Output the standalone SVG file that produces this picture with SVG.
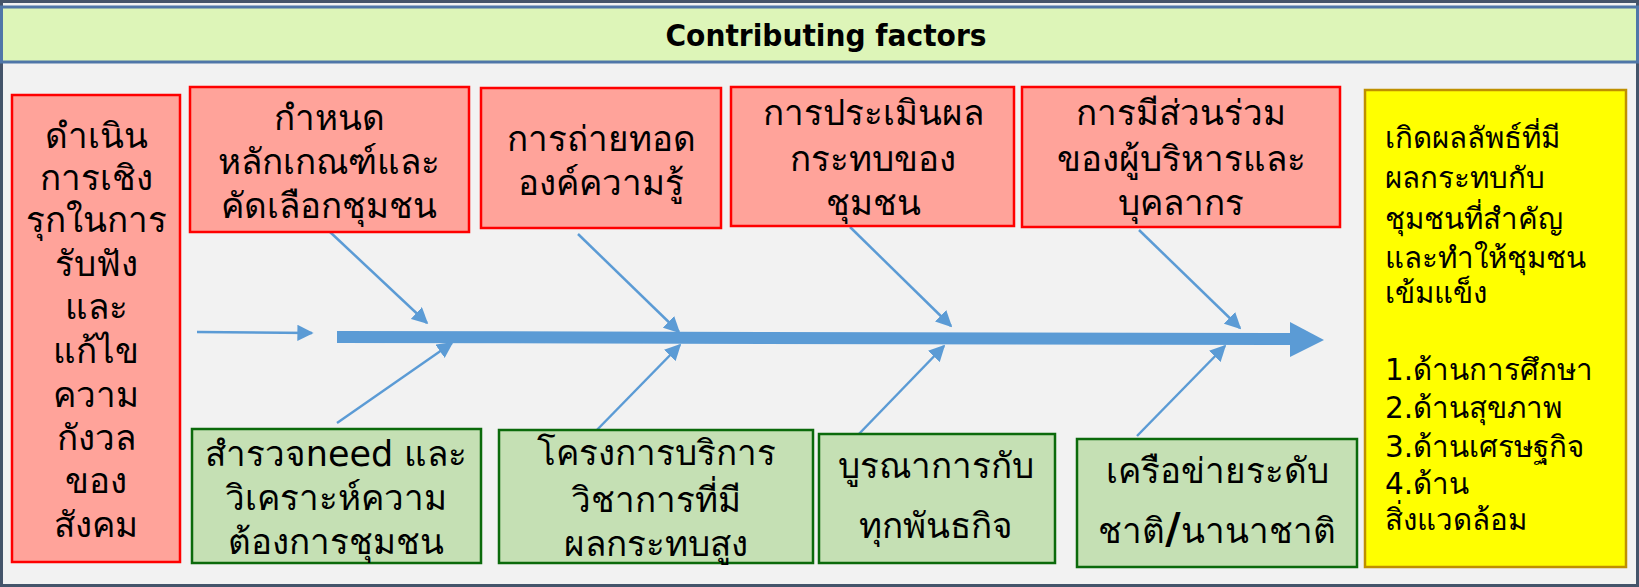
<svg xmlns="http://www.w3.org/2000/svg" width="1639" height="587" viewBox="0 0 1639 587">
<defs>
<style>
.t{font-family:"DejaVu Sans","Noto Sans",sans-serif;font-size:35px;fill:#000;text-anchor:middle}
.y{font-family:"DejaVu Sans","Noto Sans",sans-serif;font-size:29.5px;fill:#000}
.red{fill:#ffa39a;stroke:#ff0000;stroke-width:2.5}
.grn{fill:#c5e0b4;stroke:#0b6a0b;stroke-width:2.5}
.bone{stroke:#5b9bd5;stroke-width:2.5;fill:none;marker-end:url(#ah)}
</style>
<marker id="ah" viewBox="0 0 10 10" refX="9" refY="5" markerWidth="6.5" markerHeight="6.5" orient="auto">
<path d="M0,0 L10,5 L0,10 z" fill="#5b9bd5"/>
</marker>
</defs>
<rect x="0" y="0" width="1639" height="587" fill="#f2f2f2"/>
<rect x="1.5" y="1.5" width="1636" height="584" fill="none" stroke="#44546a" stroke-width="3"/>
<g id="title">
<rect x="1.5" y="7" width="1636" height="55" fill="#ddf5b8" stroke="#4f76a8" stroke-width="3"/>
<text x="826" y="46" font-family="DejaVu Sans,sans-serif" font-size="30" font-weight="bold" text-anchor="middle" textLength="321" lengthAdjust="spacingAndGlyphs">Contributing factors</text>
</g>
<g id="connectors">
<line class="bone" x1="197" y1="332" x2="312" y2="333"/>
<line x1="337" y1="337" x2="1292" y2="339" stroke="#5b9bd5" stroke-width="12"/>
<path d="M1290,322 L1324,340 L1290,357 z" fill="#5b9bd5"/>
<line class="bone" x1="330" y1="232" x2="427" y2="323"/>
<line class="bone" x1="578" y1="234" x2="679" y2="332"/>
<line class="bone" x1="850" y1="227" x2="951" y2="326"/>
<line class="bone" x1="1139" y1="230" x2="1240" y2="328"/>
<line class="bone" x1="337" y1="423" x2="452" y2="343"/>
<line class="bone" x1="592" y1="435" x2="680" y2="345"/>
<line class="bone" x1="857" y1="436" x2="944" y2="346"/>
<line class="bone" x1="1137" y1="436" x2="1225" y2="346"/>
</g>
<g id="n-proactive">
<rect class="red" x="12" y="95" width="168" height="467"/>
<text class="t"><tspan x="96" y="148">ดำเนิน</tspan><tspan x="96" y="190">การเชิง</tspan><tspan x="96" y="232">รุกในการ</tspan><tspan x="96" y="276">รับฟัง</tspan><tspan x="96" y="319">และ</tspan><tspan x="96" y="363">แก้ไข</tspan><tspan x="96" y="407">ความ</tspan><tspan x="96" y="450">กังวล</tspan><tspan x="96" y="493">ของ</tspan><tspan x="96" y="537">สังคม</tspan></text>
</g>
<g id="n-criteria">
<rect class="red" x="190" y="87" width="279" height="145"/>
<text class="t"><tspan x="329" y="130">กำหนด</tspan><tspan x="329" y="174">หลักเกณฑ์และ</tspan><tspan x="329" y="218">คัดเลือกชุมชน</tspan></text>
</g>
<g id="n-transfer">
<rect class="red" x="481" y="88" width="240" height="140"/>
<text class="t"><tspan x="601" y="151">การถ่ายทอด</tspan><tspan x="601" y="195">องค์ความรู้</tspan></text>
</g>
<g id="n-evaluate">
<rect class="red" x="731" y="87" width="283" height="139"/>
<text class="t"><tspan x="873" y="125">การประเมินผล</tspan><tspan x="873" y="171">กระทบของ</tspan><tspan x="873" y="215">ชุมชน</tspan></text>
</g>
<g id="n-participation">
<rect class="red" x="1022" y="87" width="318" height="140"/>
<text class="t"><tspan x="1181" y="125">การมีส่วนร่วม</tspan><tspan x="1181" y="171">ของผู้บริหารและ</tspan><tspan x="1181" y="215">บุคลากร</tspan></text>
</g>
<g id="n-survey">
<rect class="grn" x="192" y="429" width="289" height="134"/>
<text class="t"><tspan x="336" y="466">สำรวจneed และ</tspan><tspan x="336" y="510">วิเคราะห์ความ</tspan><tspan x="336" y="554">ต้องการชุมชน</tspan></text>
</g>
<g id="n-project">
<rect class="grn" x="499" y="430" width="314" height="133"/>
<text class="t"><tspan x="656" y="465">โครงการบริการ</tspan><tspan x="656" y="512">วิชาการที่มี</tspan><tspan x="656" y="556">ผลกระทบสูง</tspan></text>
</g>
<g id="n-integrate">
<rect class="grn" x="819" y="434" width="236" height="129"/>
<text class="t"><tspan x="936" y="478">บูรณาการกับ</tspan><tspan x="936" y="538">ทุกพันธกิจ</tspan></text>
</g>
<g id="n-network">
<rect class="grn" x="1077" y="439" width="280" height="128"/>
<text class="t"><tspan x="1217" y="543">ชาติ<tspan font-weight="bold" font-size="42">/</tspan>นานาชาติ</tspan><tspan x="1217" y="483">เครือข่ายระดับ</tspan></text>
</g>
<g id="n-outcome">
<rect x="1365" y="90" width="261" height="477" fill="#ffff00" stroke="#bf9000" stroke-width="2.5"/>
<text class="y"><tspan x="1385" y="148">เกิดผลลัพธ์ที่มี</tspan><tspan x="1385" y="188">ผลกระทบกับ</tspan><tspan x="1385" y="229">ชุมชนที่สำคัญ</tspan><tspan x="1385" y="268">และทำให้ชุมชน</tspan><tspan x="1385" y="303">เข้มแข็ง</tspan><tspan x="1385" y="380">1.ด้านการศึกษา</tspan><tspan x="1385" y="418">2.ด้านสุขภาพ</tspan><tspan x="1385" y="457">3.ด้านเศรษฐกิจ</tspan><tspan x="1385" y="494">4.ด้าน</tspan><tspan x="1385" y="530">สิ่งแวดล้อม</tspan></text>
</g>
</svg>
